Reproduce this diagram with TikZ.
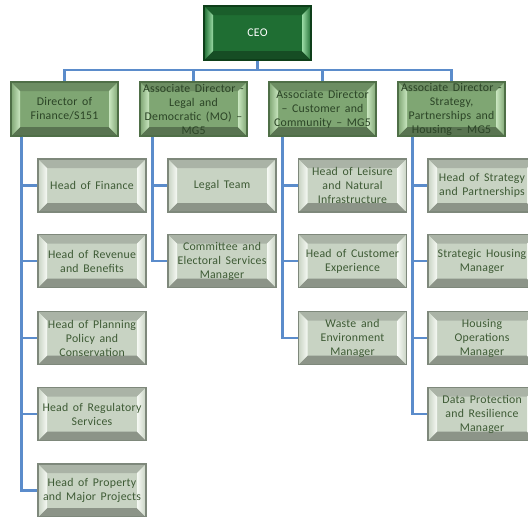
\documentclass[tikz,border=0pt]{standalone}
\usepackage{fontspec}
\setmainfont{Carlito}[WordSpace=1.6, LetterSpace=2]
\definecolor{ceog}{HTML}{1F6E33}
\definecolor{ceob}{HTML}{0E3F1A}
\definecolor{ceol}{HTML}{9ADBA5}
\definecolor{dirg}{HTML}{7FA673}
\definecolor{dirb}{HTML}{4F6F47}
\definecolor{dirl}{HTML}{C9E6C0}
\definecolor{dirt}{HTML}{2B4426}
\definecolor{kidg}{HTML}{C8D3C3}
\definecolor{kidb}{HTML}{7E887B}
\definecolor{kidl}{HTML}{F6F9F4}
\definecolor{kidt}{HTML}{3D5A34}
\definecolor{linec}{HTML}{5B8CCB}
\tikzset{
  bevel/.style n args={3}{rectangle, draw=#2, line width=1.2pt, fill=#1,
    minimum width=107pt, minimum height=54pt, inner sep=0pt, align=center,
    font=\fontsize{11.8}{14}\selectfont,
    path picture={
      \coordinate (bvNW) at (path picture bounding box.north west);
      \coordinate (bvNE) at (path picture bounding box.north east);
      \coordinate (bvSW) at (path picture bounding box.south west);
      \coordinate (bvSE) at (path picture bounding box.south east);
      \coordinate (bvnw) at ([shift={(9pt,-9pt)}]bvNW);
      \coordinate (bvne) at ([shift={(-9pt,-9pt)}]bvNE);
      \coordinate (bvsw) at ([shift={(9pt,9pt)}]bvSW);
      \coordinate (bvse) at ([shift={(-9pt,9pt)}]bvSE);
      \fill[#1!85!black] (bvNW) -- (bvNE) -- (bvne) -- (bvnw) -- cycle;
      \fill[#1!70!black] (bvSW) -- (bvSE) -- (bvse) -- (bvsw) -- cycle;
      \shade[left color=#1, right color=#3] (bvNW) -- (bvnw) -- (bvsw) -- (bvSW) -- cycle;
      \shade[left color=#3, right color=#1] (bvNE) -- (bvne) -- (bvse) -- (bvSE) -- cycle;
    }},
  ceobox/.style={bevel={ceog}{ceob}{ceol}, text=white},
  dirbox/.style={bevel={dirg}{dirb}{dirl}, text=dirt},
  kidbox/.style={bevel={kidg}{kidb}{kidl}, text=kidt, minimum width=108pt, minimum height=53pt},
  conn/.style={draw=linec, line width=2.5pt, line join=miter},
}
\begin{document}
\begin{tikzpicture}[x=1pt,y=1pt]
\useasboundingbox (0,0) rectangle (528,-517);
\fill[white] (0,0) rectangle (528,-517);
\clip (0,0) rectangle (528,-517);

% CEO and directors
\node[ceobox] (ceo) at (257.5,-33) {CEO};
\node[dirbox] (d1) at (64.5,-109) {Director of\\Finance/S151};
\node[dirbox] (d2) at (193.5,-109) {Associate Director -\\Legal and\\Democratic (MO) –\\MG5};
\node[dirbox] (d3) at (322.5,-109) {Associate Director\\– Customer and\\Community – MG5};
\node[dirbox] (d4) at (451.5,-109) {Associate Director -\\Strategy,\\Partnerships and\\Housing – MG5};

% Finance
\node[kidbox] (f1) at (92,-185.5) {Head of Finance};
\node[kidbox] (f2) at (92,-261) {Head of Revenue\\and Benefits};
\node[kidbox] (f3) at (92,-338) {Head of Planning\\Policy and\\Conservation};
\node[kidbox] (f4) at (92,-414) {Head of Regulatory\\Services};
\node[kidbox] (f5) at (92,-490.5) {Head of Property\\and Major Projects};

% Legal
\node[kidbox] (l1) at (222,-185.5) {Legal Team};
\node[kidbox] (l2) at (222,-261) {Committee and\\Electoral Services\\Manager};

% Customer
\node[kidbox] (c1) at (352.5,-185.5) {Head of Leisure\\and Natural\\Infrastructure};
\node[kidbox] (c2) at (352.5,-261) {Head of Customer\\Experience};
\node[kidbox] (c3) at (352.5,-338) {Waste and\\Environment\\Manager};

% Strategy
\node[kidbox] (s1) at (482,-185.5) {Head of Strategy\\and Partnerships};
\node[kidbox] (s2) at (482,-261) {Strategic Housing\\Manager};
\node[kidbox] (s3) at (482,-338) {Housing\\Operations\\Manager};
\node[kidbox] (s4) at (482,-414) {Data Protection\\and Resilience\\Manager};

% connectors
\coordinate (bus) at (257.5,-70);
\draw[conn] (ceo.south) -- (bus);
\draw[conn] (bus) -| (d1.north);
\draw[conn] (bus) -| (d2.north);
\draw[conn] (bus) -| (d3.north);
\draw[conn] (bus) -| (d4.north);

\foreach \k in {f1,f2,f3,f4,f5}{\draw[conn] ([xshift=11pt]d1.south west) |- (\k.west);}
\foreach \k in {l1,l2}{\draw[conn] ([xshift=13pt]d2.south west) |- (\k.west);}
\foreach \k in {c1,c2,c3}{\draw[conn] ([xshift=14pt]d3.south west) |- (\k.west);}
\foreach \k in {s1,s2,s3,s4}{\draw[conn] ([xshift=15pt]d4.south west) |- (\k.west);}
\end{tikzpicture}
\end{document}
